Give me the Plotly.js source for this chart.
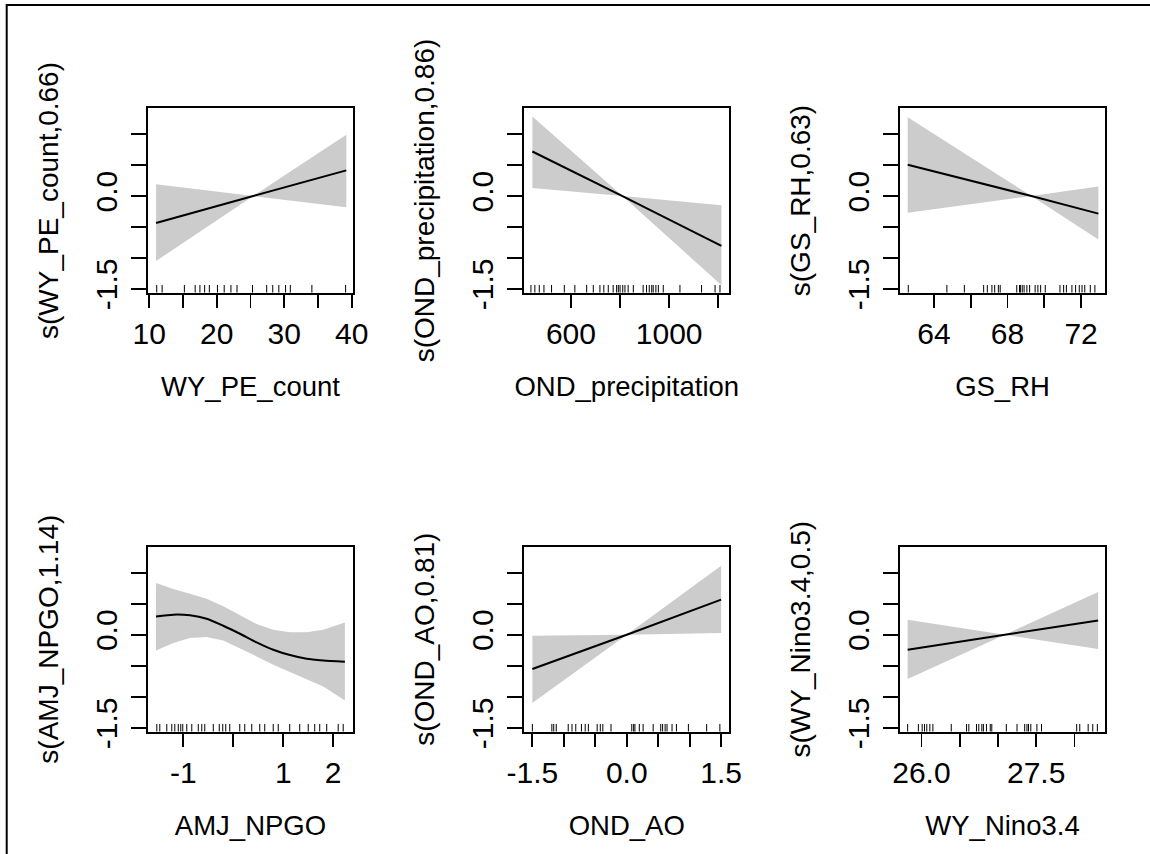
<!DOCTYPE html>
<html><head><meta charset="utf-8">
<script src="https://cdn.plot.ly/plotly-3.0.1.min.js"></script>
<style>html,body{margin:0;padding:0;background:#fff}#chart{width:1150px;height:854px}</style>
</head><body><div id="chart"></div>
<script>
// ---- Panel 1: WY_PE_count ----
const peX = [11.0, 25.4, 39.2];
const peFit = [-0.435, 0, 0.415];
const peUpper = [0.19, 0, 0.99];
const peLower = [-1.05, 0, -0.18];
const peRug = [11.1, 11.9, 15.2, 16.8, 17.5, 18.2, 18.9, 20.1, 21.1, 22.1, 23.0, 25.3, 27.4, 28.3, 29.2, 30.2, 30.9, 34.1, 39.1];
const peTicks = [10, 15, 20, 25, 30, 35, 40];
const peTickText = ['10', '', '20', '', '30', '', '40'];

// ---- Panel 2: OND_precipitation ----
const prX = [442.8, 810, 1213];
const prFit = [0.72, 0, -0.806];
const prUpper = [1.285, 0, -0.15];
const prLower = [0.13, 0, -1.44];
const prRug = [437, 453, 471, 490, 521, 573, 616, 664, 691, 718, 734, 752, 772, 786, 793, 800, 811, 820, 833, 854, 894, 908, 919, 929, 935, 946, 956, 976, 1044, 1132, 1187, 1207];
const prTicks = [600, 800, 1000, 1200];
const prTickText = ['600', '', '1000', ''];

// ---- Panel 3: GS_RH ----
const rhX = [62.57, 69.3, 72.94];
const rhFit = [0.506, 0, -0.284];
const rhUpper = [1.274, 0, 0.156];
const rhLower = [-0.268, 0, -0.703];
const rhRug = [62.6, 64.7, 65.65, 66.7, 66.9, 67.15, 67.3, 67.5, 67.6, 68.5, 68.65, 68.7, 68.8, 68.9, 69.05, 69.2, 69.5, 69.65, 69.8, 70.05, 70.85, 71.05, 71.2, 71.5, 71.7, 71.9, 72.05, 72.2, 72.5, 72.75];
const rhTicks = [64, 66, 68, 70, 72];
const rhTickText = ['64', '', '68', '', '72'];

// ---- Panel 4: AMJ_NPGO ----
const npX = [-1.546, -1.2, -0.866, -0.533, -0.2, 0.134, 0.467, 0.8, 1.134, 1.467, 1.8, 2.234];
const npFit = [0.295, 0.323, 0.312, 0.258, 0.145, 0.016, -0.124, -0.242, -0.328, -0.387, -0.414, -0.435];
const npUpper = [0.833, 0.737, 0.661, 0.58, 0.457, 0.312, 0.172, 0.081, 0.038, 0.038, 0.081, 0.199];
const npLower = [-0.253, -0.134, -0.054, -0.037, -0.091, -0.215, -0.349, -0.484, -0.608, -0.715, -0.833, -1.06];
const npRug = [-1.53, -1.47, -1.33, -1.23, -1.17, -1.1, -1.05, -1.01, -0.93, -0.83, -0.7, -0.63, -0.57, -0.4, -0.28, -0.21, -0.15, -0.07, 0.13, 0.23, 0.37, 0.53, 0.63, 0.8, 0.9, 1.13, 1.33, 1.5, 1.63, 1.73, 1.87, 2.1, 2.2];
const npTicks = [-1, 0, 1, 2];
const npTickText = ['-1', '', '1', '2'];

// ---- Panel 5: OND_AO ----
const aoX = [-1.5, 0.0, 1.5];
const aoFit = [-0.553, 0, 0.565];
const aoUpper = [-0.016, 0, 1.11];
const aoLower = [-1.10, 0, 0.027];
const aoRug = [-1.5, -1.19, -1.16, -1.12, -0.93, -0.87, -0.81, -0.72, -0.66, -0.61, -0.47, -0.42, -0.38, -0.25, 0.08, 0.11, 0.13, 0.2, 0.26, 0.42, 0.54, 0.57, 0.61, 0.64, 0.72, 0.79, 0.98, 1.27, 1.48];
const aoTicks = [-1.5, -1, -0.5, 0, 0.5, 1, 1.5];
const aoTickText = ['-1.5', '', '', '0.0', '', '', '1.5'];

// ---- Panel 6: WY_Nino3.4 ----
const ninoX = [25.82, 27.09, 28.31];
const ninoFit = [-0.242, 0, 0.231];
const ninoUpper = [0.242, 0, 0.689];
const ninoLower = [-0.715, 0, -0.231];
const ninoRug = [25.82, 25.96, 26.01, 26.04, 26.07, 26.11, 26.15, 26.39, 26.59, 26.62, 26.72, 26.75, 26.79, 26.81, 26.85, 26.9, 26.92, 27.11, 27.25, 27.35, 27.38, 27.4, 27.43, 27.51, 27.57, 28.03, 28.07, 28.18, 28.24, 28.3];
const ninoTicks = [26, 26.5, 27, 27.5, 28];
const ninoTickText = ['26.0', '', '', '27.5', ''];

// ---- shared y axis ----
const yTicks = [-1.5, -1, -0.5, 0, 0.5, 1];
const yTickText = ['-1.5', '', '', '0.0', '', ''];

const xTitles = ['WY_PE_count', 'OND_precipitation', 'GS_RH', 'AMJ_NPGO', 'OND_AO', 'WY_Nino3.4'];
const yTitles = ['s(WY_PE_count,0.66)', 's(OND_precipitation,0.86)', 's(GS_RH,0.63)', 's(AMJ_NPGO,1.14)', 's(OND_AO,0.81)', 's(WY_Nino3.4,0.5)'];

// ---- layout geometry (pixels) ----
const W = 1150, H = 854;
const colPx = [[148.3, 352.7], [524.3, 729.3], [900, 1105]];
const rowPx = [[108.3, 292.7], [546.7, 731.7]];
const xRanges = [[9.85, 40.15], [410, 1245], [62.15, 73.3], [-1.7, 2.39], [-1.628, 1.63], [25.72, 28.4]];
const yRange = [-1.562, 1.418];
const rugLen = 0.125;

const FONT = 'Liberation Sans, Arial, Helvetica, sans-serif';

const panels = [
  {x: peX, fit: peFit, up: peUpper, lo: peLower, rug: peRug, tv: peTicks, tt: peTickText},
  {x: prX, fit: prFit, up: prUpper, lo: prLower, rug: prRug, tv: prTicks, tt: prTickText},
  {x: rhX, fit: rhFit, up: rhUpper, lo: rhLower, rug: rhRug, tv: rhTicks, tt: rhTickText},
  {x: npX, fit: npFit, up: npUpper, lo: npLower, rug: npRug, tv: npTicks, tt: npTickText},
  {x: aoX, fit: aoFit, up: aoUpper, lo: aoLower, rug: aoRug, tv: aoTicks, tt: aoTickText},
  {x: ninoX, fit: ninoFit, up: ninoUpper, lo: ninoLower, rug: ninoRug, tv: ninoTicks, tt: ninoTickText}
];

const traces = [];
const layout = {
  width: W, height: H,
  margin: {l: 0, r: 0, t: 0, b: 0},
  paper_bgcolor: '#ffffff', plot_bgcolor: '#ffffff',
  showlegend: false,
  font: {family: FONT, color: '#000000'},
  shapes: [{
    type: 'rect', xref: 'paper', yref: 'paper',
    x0: 6.7 / W, x1: 1.05, y0: -0.05, y1: 1 - 5 / H,
    line: {color: '#000000', width: 2}, fillcolor: 'rgba(0,0,0,0)'
  }]
};

panels.forEach((p, i) => {
  const n = i + 1;
  const xa = n === 1 ? 'x' : 'x' + n;
  const ya = n === 1 ? 'y' : 'y' + n;
  const col = colPx[i % 3], row = rowPx[Math.floor(i / 3)];

  // confidence band polygon
  const bandX = p.x.concat(p.x.slice().reverse());
  const bandY = p.up.concat(p.lo.slice().reverse());
  traces.push({x: bandX, y: bandY, xaxis: xa, yaxis: ya, type: 'scatter', mode: 'lines',
    fill: 'toself', fillcolor: '#cccccc', line: {width: 0, color: '#cccccc'}, hoverinfo: 'skip'});
  // fitted smooth
  traces.push({x: p.x, y: p.fit, xaxis: xa, yaxis: ya, type: 'scatter', mode: 'lines',
    line: {color: '#000000', width: 2, shape: 'spline', smoothing: 0.6}});
  // rug
  const rx = [], ry = [];
  p.rug.forEach(v => { rx.push(v, v, null); ry.push(yRange[0], yRange[0] + rugLen, null); });
  traces.push({x: rx, y: ry, xaxis: xa, yaxis: ya, type: 'scatter', mode: 'lines',
    line: {color: '#000000', width: 1}, hoverinfo: 'skip'});

  layout['xaxis' + (n === 1 ? '' : n)] = {
    domain: [col[0] / W, col[1] / W], anchor: ya, range: xRanges[i],
    showgrid: false, zeroline: false,
    showline: true, mirror: true, linecolor: '#000000', linewidth: 2,
    ticks: 'outside', ticklen: 13, tickwidth: 1.8, tickcolor: '#000000',
    tickmode: 'array', tickvals: p.tv, ticktext: p.tt,
    tickfont: {family: FONT, size: 30, color: '#000000'},
    ticklabelstandoff: 0,
    title: {text: xTitles[i], font: {family: FONT, size: 27.5, color: '#000000'}, standoff: 28}
  };
  layout['yaxis' + (n === 1 ? '' : n)] = {
    domain: [1 - row[1] / H, 1 - row[0] / H], anchor: xa, range: yRange,
    showgrid: false, zeroline: false,
    showline: true, mirror: true, linecolor: '#000000', linewidth: 2,
    ticks: 'outside', ticklen: 15, tickwidth: 1.8, tickcolor: '#000000',
    tickmode: 'array', tickvals: yTicks, ticktext: yTickText, tickangle: -90,
    tickfont: {family: FONT, size: 30, color: '#000000'},
    ticklabelstandoff: 2,
    title: {text: yTitles[i], font: {family: FONT, size: 28, color: '#000000'}, standoff: 23}
  };
});

Plotly.newPlot('chart', traces, layout, {staticPlot: true, displayModeBar: false});
</script>
</body></html>
